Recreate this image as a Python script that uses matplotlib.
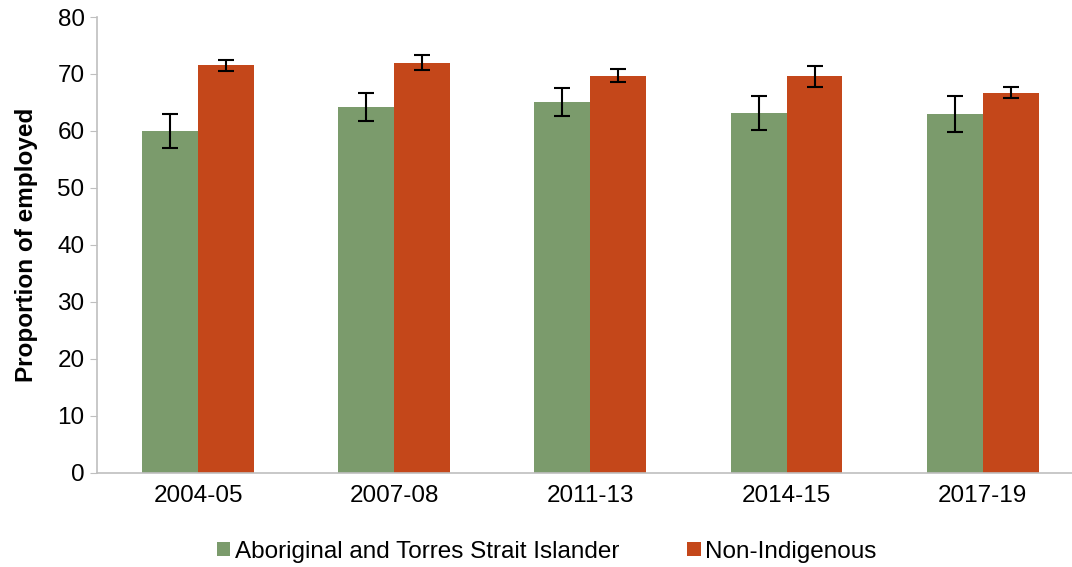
import numpy as np
import matplotlib.pyplot as plt

plt.rcParams["font.family"] = ["Liberation Sans", "DejaVu Sans"]

periods = ["2004-05", "2007-08", "2011-13", "2014-15", "2017-19"]
indigenous = [60.0, 64.2, 65.1, 63.2, 63.0]
indigenous_err = [3.0, 2.5, 2.4, 3.0, 3.1]
non_indigenous = [71.5, 72.0, 69.7, 69.6, 66.7]
non_indigenous_err = [0.9, 1.3, 1.1, 1.8, 1.0]

green = "#7B9B6C"
orange = "#C4471A"
grey = "#BFBFBF"

fig = plt.figure(figsize=(10.72, 5.67), dpi=100)
ax = fig.add_axes([0.0905, 0.166, 0.9095, 0.804])

x = np.arange(len(periods))
w = 0.285
err_kw = dict(ecolor="black", elinewidth=1.5, capsize=6, capthick=1.5)
ax.bar(x - w / 2, indigenous, w, yerr=indigenous_err, color=green,
       error_kw=err_kw, label="Aboriginal and Torres Strait Islander")
ax.bar(x + w / 2, non_indigenous, w, yerr=non_indigenous_err, color=orange,
       error_kw=err_kw, label="Non-Indigenous")

ax.set_xlim(-0.515, 4.455)
ax.set_ylim(0, 80)
ax.set_yticks(range(0, 81, 10))
ax.set_xticks(x)
ax.set_xticklabels(periods)
ax.tick_params(axis="both", labelsize=17.5, colors="#000000")
ax.tick_params(axis="y", length=5, color=grey, pad=4)
ax.tick_params(axis="x", length=0, pad=9)
for s in ["top", "right"]:
    ax.spines[s].set_visible(False)
for s in ["left", "bottom"]:
    ax.spines[s].set_color(grey)
    ax.spines[s].set_linewidth(1.2)

ax.set_ylabel("Proportion of employed", fontsize=17.5, fontweight="bold", labelpad=14)

fig.legend(loc="center", bbox_to_anchor=(0.51, 0.027), ncol=2, frameon=False,
           fontsize=17.5, handlelength=0.55, handleheight=0.55, handletextpad=0.2,
           columnspacing=2.8)

fig.savefig("out.png", dpi=100)
